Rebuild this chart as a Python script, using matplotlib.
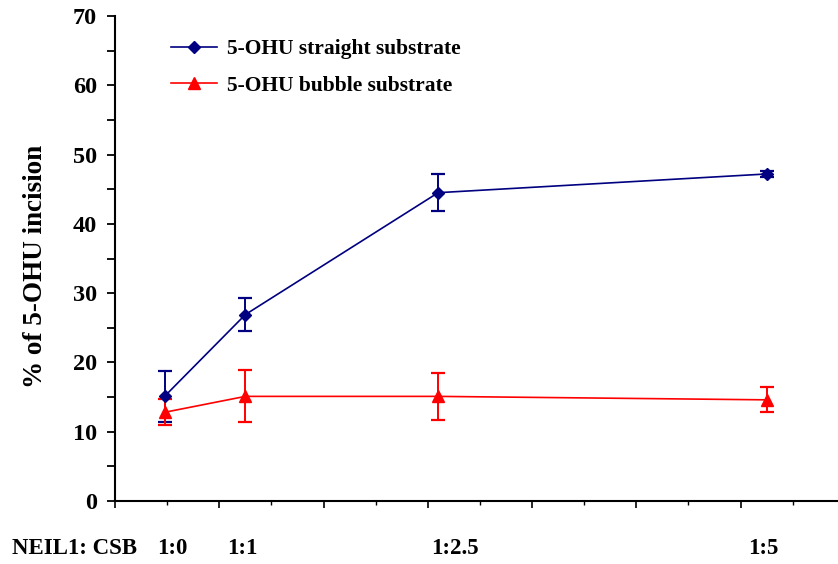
import matplotlib
matplotlib.use("Agg")
import matplotlib.pyplot as plt
from matplotlib.lines import Line2D
from matplotlib.ticker import MultipleLocator, NullFormatter

# CSB amount on a linear axis (NEIL1 fixed)
x_pos = [0.95, 2.5, 6.2, 12.5]
ratio_labels = ["1:0", "1:1", "1:2.5", "1:5"]

straight_mean = [15.1, 26.9, 44.5, 47.2]
straight_err = [3.7, 2.4, 2.65, 0.4]

bubble_mean = [12.8, 15.1, 15.1, 14.6]
bubble_err = [1.9, 3.75, 3.4, 1.8]

plt.rcParams["font.family"] = ["Liberation Serif", "DejaVu Serif"]
plt.rcParams["font.weight"] = "bold"

W, H = 838, 564
fig = plt.figure(figsize=(W / 100, H / 100), dpi=100)
ax = fig.add_axes([115 / W, 1 - 501 / H, (W - 115) / W, (501 - 16) / H])

navy = "#000080"
red = "#FF0000"

ax.errorbar(x_pos, straight_mean, yerr=straight_err, color=navy, ecolor=navy,
            marker="D", markersize=6, lw=1.2, elinewidth=1.4, capsize=5,
            capthick=1.6, zorder=3)
ax.errorbar(x_pos, bubble_mean, yerr=bubble_err, color=red, ecolor=red,
            marker="^", markersize=8, lw=1.2, elinewidth=1.4, capsize=5,
            capthick=1.6, zorder=3)

ax.set_xlim(0, 13.87)
ax.set_ylim(0, 70)
ax.yaxis.set_major_locator(MultipleLocator(10))
ax.yaxis.set_minor_locator(MultipleLocator(5))
ax.xaxis.set_major_locator(MultipleLocator(2))
ax.xaxis.set_minor_locator(MultipleLocator(1))
ax.xaxis.set_major_formatter(NullFormatter())

for s in ("top", "right"):
    ax.spines[s].set_visible(False)
for s in ("left", "bottom"):
    ax.spines[s].set_linewidth(1.5)

ax.tick_params(axis="y", which="both", direction="out", length=6, width=1.3,
               labelsize=17.5, pad=7)
ax.tick_params(axis="x", which="major", direction="out", length=5, width=1.2)
ax.tick_params(axis="x", which="minor", direction="out", length=3, width=1.0)
for t in ax.get_yticklabels():
    t.set_fontweight("bold")

ax.set_ylabel("% of 5-OHU incision", fontsize=19.5, fontweight="bold")
ax.yaxis.set_label_coords(-0.093, 0.484)

# ratio labels under the points
label_px = [172, 242, 455, 763]
for xp, lab in zip(label_px, ratio_labels):
    fig.text(xp / W, 1 - 549 / H, lab, ha="center", va="center",
             fontsize=16.5, fontweight="bold")
fig.text(12 / W, 1 - 549 / H, "NEIL1: CSB", ha="left", va="center",
         fontsize=16.5, fontweight="bold")

handles = [
    Line2D([], [], color=navy, marker="D", markersize=6, lw=1.2),
    Line2D([], [], color=red, marker="^", markersize=8, lw=1.2),
]
ax.legend(handles, ["5-OHU straight substrate", "5-OHU bubble substrate"],
          loc="upper left", bbox_to_anchor=(152 / W, 1 - 20 / H),
          bbox_transform=fig.transFigure, frameon=False,
          handlelength=2.1, handletextpad=0.5, labelspacing=0.75,
          prop={"size": 15.5, "weight": "bold"})

fig.savefig("out.png", dpi=100)
